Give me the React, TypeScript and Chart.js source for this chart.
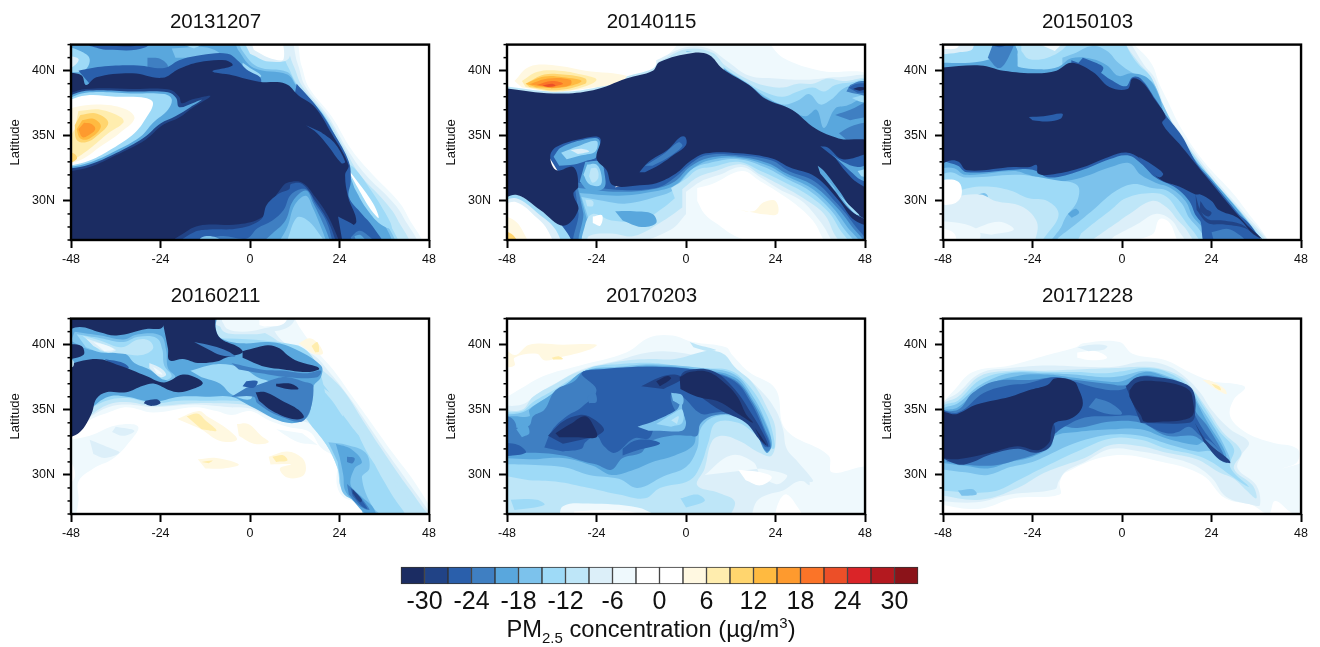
import React, { useEffect, useRef } from "react";
import { Chart, registerables } from "chart.js";

Chart.register(...registerables);

type Layer = [number, number[]];

const panelTitles = ["20131207", "20140115", "20150103", "20160211", "20170203", "20171228"];
const hourTicks = [-48, -24, 0, 24, 48];
const latTicks = [30, 35, 40];
const latMinor = [27, 28, 29, 31, 32, 33, 34, 36, 37, 38, 39, 41, 42];
const barValues = [-31.5, -28.5, -25.5, -22.5, -19.5, -16.5, -13.5, -10.5, -7.5, -4.5, -1.5, 1.5, 4.5, 7.5, 10.5, 13.5, 16.5, 19.5, 22.5, 25.5, 28.5, 31.5];
const barTicks = [-30, -24, -18, -12, -6, 0, 6, 12, 18, 24, 30];
const barColors = ["#1b2c62", "#214386", "#2a5fab", "#3f7fc2", "#59a7dd", "#7cc2ec", "#9edaf7", "#bee6f8", "#dceff9", "#eff9fd", "#ffffff", "#ffffff", "#fff8e1", "#ffedae", "#ffd56e", "#ffba40", "#fe9a2e", "#fb7428", "#ec4f28", "#da2428", "#b4191f", "#8b1319"];

// Each layer: [PM2.5 anomaly of the band, contour outline as hour,lat,hour,lat...]; painted back to front.
const panel2013: Layer[] = [
  [-5, [-50,43, 10.4,43, 13.9,40.3, 15.7,38.75, 22,36.45, 27.3,33.9, 32.6,32.1, 39.7,30, 42.3,28.8, 45.4,26.5, -50,26.5]],
  [-8, [-50,43, 9,43, 12.8,40.5, 14.8,38.8, 21,36.5, 26,34, 31,32, 38,30, 41,28.8, 44,26.5, -50,26.5]],
  [-11, [-50,43, 7,43, 11.5,40.5, 14,38.8, 20.5,36.5, 25,34.2, 29.5,32, 36,30, 39.5,28.6, 42,26.5, -50,26.5]],
  [-14, [-50,43, 5,43, 10,40.4, 13,38.8, 20,36.5, 24.5,34, 28,32, 34,30, 37,28.5, 39,26.5, -50,26.5]],
  [-8, [-3,43, 9,43, 10.5,41, 5,40.7, 0,41.3]],
  [-2, [-0.5,43, 7,43, 9,40.9, 5,41, 1,41.6]],
  [-17, [-50,43, -5,43, -2,41.5, 2,40.3, 10,39.9, 12.5,38.9, 19.5,36.7, 24,34.3, 27.5,32.3, 32,30.3, 35.5,28.8, 38,26.5, -50,26.5]],
  [-20, [-50,43, -6,43, -3,41.5, 1,40.2, 10,39.7, 12.5,38.8, 19,36.8, 23.5,34.5, 27,32.5, 31,30.5, 34.5,29, 37,26.5, -50,26.5]],
  [-14, [25.5,33, 28,32.5, 32,31, 36,29.2, 38,27.9, 35,28.2, 31,29.5, 28,31]],
  [-2, [26,32.5, 28,31.8, 33,29.8, 34.5,28.7, 32,29.5, 28.5,31.2]],
  [-26, [12.5,39, 18,37.2, 22.5,35.2, 26.5,33, 27,31.5, 26.5,30.3, 30,29, 33,28, 35.5,26.5, 20,26.5, 10,35]],
  [-14, [-50,41.9, -45.5,41.5, -43,40.9, -44.5,40, -50,39.9]],
  [-8, [-50,41.2, -46,40.9, -47.5,40.3, -50,40.2]],
  [-26, [-45,43, -26,43, -28,41.8, -38,41.6, -43,41.9]],
  [-29, [-40,42.3, -30,42.3, -31,41.9, -37,41.9]],
  [-23, [-27.5,41, -24,40.9, -22,40.3, -25,40, -27.5,40.3]],
  [-17, [-21,41.7, -12,41.8, -8,41.3, -10,41.1, -16,41, -20,41]],
  [-14, [-18,42, -13,42, -15,41.7]],
  [-14, [-2,40.6, 0,40.2, 3,39.6, 1,39.4, -2,39.7]],
  [-26, [-46,40, -40,40.3, -30,40.4, -23,40.2, -19,40.8, -13,41.2, -6,41.3, -3,40.7, -1,40.1, 3,39.3, 0,38, -40,38]],
  [-32, [-50,39.85, -45.2,39.65, -44,38.9, -41.2,39.5, -31.5,39.8, -23.5,39.45, -19,40.15, -13.7,40.65, -6.6,40.8, -4.7,40.4, -10.1,39.95, -4.8,39.65, 2.4,39.15, 9.5,39, 13,38.1, 17.4,37.2, 21.9,35.15, 26.4,32.75, 25.5,32, 26.3,30.3, 28.5,28.4, 26,27.8, 26,26.5, -50,26.5]],
  [-26, [15,35.8, 18,35.2, 21,34.2, 24.5,32.9, 25.5,33, 22.5,34.5, 19,35.3]],
  [-29, [-50,38.1, -44,38.6, -31.5,38.6, -21.7,38.55, -19,38, -18.3,37.5, -15.4,37.8, -10.6,38.05, -15.4,37.15, -19,36.4, -23.5,35.8, -28,34.7, -36,33.5, -43,32.6, -50,32.2]],
  [-20, [-50,37.9, -44,38.45, -31.5,38.4, -22,38.35, -19.8,37.9, -19,37.2, -15.4,37.5, -13,37.75, -16,37.2, -20,36.5, -24,35.95, -28.5,34.85, -36,33.65, -43,32.8, -50,32.4]],
  [-14, [-50,37.7, -44,38.3, -32,38.25, -23,38.2, -21,37.8, -22,37, -26,36, -29.5,34.9, -36,33.85, -43,32.95, -50,32.5]],
  [-2, [-50,37.6, -44,38.1, -36,38, -28,37.9, -26,37.5, -28,36.3, -31,35.2, -37,34, -43,33.1, -50,32.6]],
  [4, [-50,36.8, -47,37.2, -40,37.4, -33,37, -31,36.3, -35,35.2, -40,34.2, -45,33.2, -50,32.8]],
  [7, [-46,36.9, -40,37, -34.5,36.4, -34,36, -38,35.2, -43,34, -46,33.4, -50,32.8, -50,34, -47,35.5]],
  [10, [-45.5,36.6, -41,36.7, -38,36, -41,35, -44,34.5, -46.5,34.7, -47,35.8]],
  [13, [-45,36.2, -42,36.3, -40,35.7, -43,34.8, -45.5,34.8, -46.5,35.5]],
  [16, [-44.5,36, -42.5,35.9, -41.5,35.5, -43.5,35, -45,34.9, -46,35.5]],
  [10, [-50,33.8, -47,33.6, -46.5,33.2, -50,32.7]],
  [-29, [-23,26.5, -19,27.3, -13.7,28.1, -3,28.2, 3,28.7, 5,29.6, 8.4,31, 10,31.4, 14,31.4, 17.5,30.3, 21,28.8, 24.5,26.5]],
  [-26, [-21,26.5, -15,27.6, -11,27.8, -3,27.9, 3,28.6, 4.5,29.7, 8,30.6, 10.5,30.9, 11,31.3, 14,31.3, 17.5,30, 21,28.4, 23.5,26.5]],
  [-23, [-18,26.5, -8,27.3, -1,27.1, 2,27.9, 6,28.5, 9,29.3, 11,30.5, 15,30.9, 17.5,29.8, 20.5,28.4, 22.5,26.5]],
  [-20, [2,26.5, 6,27.5, 9.5,28.5, 11.5,30, 15,30.8, 17,29.8, 20,28, 22,26.5]],
  [-17, [7,26.5, 10,28, 12,29.7, 15,30.4, 16.8,29.5, 19,28, 21,26.5]],
  [-14, [10,27, 12.5,28.7, 15,28.6, 18,27.7, 20,26.5, 12,26.5]],
  [-17, [-14,26.5, -13,27.2, -9,27.2, -6,26.5]],
  [-26, [23.6,28.8, 27,28.3, 29,27.9, 33,27.3, 35,26.5, 25,26.5]],
  [-23, [27,27.2, 29,27.7, 31,27.5, 34,26.5, 28,26.5]],
  [-20, [28,27.3, 29.5,27.4, 31,27, 33,26.5, 29,26.5]],
];

const panel2014: Layer[] = [
  [-5, [-8,40.3, -3.5,41.6, 0,42.5, 20,42.5, 26,41, 36,40, 50,39.4, 50,33, -8,33]],
  [-8, [-8,40.8, 0,41.8, 6,41.7, 10.7,40.8, 17,39.6, 24,39.4, 32,39.3, 41,39.5, 50,39.3, 50,33, -8,33]],
  [-11, [-7,40.7, 0,41.65, 7,41.4, 10.5,40.4, 17.5,39.2, 22,38.8, 26,38.7, 30,39, 34,39, 38,39.4, 42,39.2, 50,39.2, 50,33, -7,33]],
  [-14, [0,41.5, 7,41.3, 10,40.3, 17,39, 21.5,38.3, 26,38, 30,38.4, 34,38.7, 37,38.4, 40,38.9, 44,39.1, 50,39.2, 50,33, 0,33]],
  [-17, [0,41.5, 6.5,41.3, 10,40.2, 16.9,38.9, 21.5,38, 26,37.4, 30,37.7, 33,38.2, 36,37.4, 39,37.8, 42,38.6, 45,38.9, 50,39, 50,33]],
  [-20, [6,41.25, 10,40.2, 17,38.9, 21.4,37.9, 27,37.2, 32,36.5, 35,37, 37,35.6, 40,37.1, 43,37.3, 50,38, 50,33, 10,33]],
  [-14, [44.5,37.9, 47,37.6, 50,37.7, 50,38, 47,38.1]],
  [-23, [44,38.9, 47,39.2, 50,39, 50,38.1, 46,38.2, 43,38.4]],
  [-26, [43.5,38.7, 46,39, 50,38.9, 50,38.4, 46,38.3]],
  [-32, [44.8,38.6, 46.5,38.75, 48.5,38.65, 46.5,38.45]],
  [-23, [40,36.6, 44,37, 50,37.7, 50,36.7, 44,36.2]],
  [-23, [41,35.2, 44,35.7, 48,36, 50,35.9, 50,34.8, 43,34.7]],
  [-26, [-36,35, -22,35, -22,31, 0,33.6, 14,34, 28,33, 35,32, 41,30.5, 46,29, 49,27.5, 50,26.5, -33,26.5, -32,30]],
  [-26, [-37,33.5, -34.5,34.4, -27.5,35, -22.5,35, -23.5,33.5, -21,32.3, -19,31, -28,29, -33,27.9, -33,26.5, -25,26.5, -27,32, -34,32.1]],
  [-23, [-30,31.5, -20,30.9, -8,31, -3,31.8, 1,32.8, 5.5,33.5, 14,33.5, 23,33.1, 27.5,32.3, 34.5,31.5, 40.5,29.8, 45,28.2, 48.5,26.5, -29,26.5, -28.8,29]],
  [-20, [-29,31, -18,30.7, -9,30.9, -3,31.5, 1,32.6, 6,33.3, 14,33.4, 22,32.9, 27,32.1, 34,31.2, 39.5,29.8, 44,28.2, 47.5,26.5, -27.5,26.5, -27.5,29]],
  [-17, [-28.5,30.6, -18,30.4, -9,30.7, -3,31.2, 1,32.3, 6,33.1, 14,33.3, 22,32.7, 27,31.9, 33.5,31, 39,29.6, 43,28.1, 46.5,26.5, -26,26.5, -26.5,28.5]],
  [-14, [-28,30.3, -22,30, -16,29.8, -7,30.4, -3.5,30.8, -1,31.6, 2,32.5, 6,32.9, 14,33.2, 21,32.6, 27,31.7, 33,30.8, 38.5,29.4, 42,28, 45,26.5, -25,26.5, -26,28.5]],
  [-11, [-4,31, 0,31.7, 3,32.4, 7,32.6, 14,33, 20,32.3, 26,31.5, 32.5,30.5, 38,29.2, 41,27.9, 43.5,26.5, -27,26.5, -27,28.2, -25,29, -20,28.5, -12,28.5, -6,29.5, -3,30.2]],
  [-20, [-19,29.2, -14,29.2, -9,29, -8,28.3, -12,28, -17,28.5]],
  [-8, [-1,30.9, 3,31.8, 8,32.3, 15,32.8, 20,32, 26,31.1, 31.5,30.2, 37,29, 39.5,27.6, 41,26.5, -26,26.5, -26,27.3, -20,27.5, -14,27.3, -6,28.5, -1,29.5]],
  [-5, [0,30.7, 4,31.5, 9,32, 15,32.6, 20,31.8, 25,30.9, 31,30, 35.5,28.6, 38,27.5, 39,26.5, -20,26.5, -14,26.7, -4,27.8, 0,29]],
  [-2, [3,31, 7,31.3, 15,32.3, 20,31.5, 24,30.8, 30,29.6, 34,28.5, 36,27.5, 37,26.5, 24,26.5, 14,27.2, 8,28.3, 5,29, 3,30]],
  [4, [13,29.4, 18,29.2, 20.8,29.9, 24,30, 24.5,29, 20,29]],
  [-11, [-27,30.1, -25,30, -25,29.6, -26.5,29.6]],
  [-2, [-25,28.8, -22.5,28.9, -23,28.1, -25,28.3]],
  [-20, [-35.5,33.4, -33.5,34.1, -27.5,34.7, -23.3,34.7, -24,33.4, -26.5,33.1, -30,32.8, -34,32.7]],
  [-14, [-33.5,33.7, -29,34.2, -24,34.6, -24.3,33.8, -28,33.5, -32,33.2]],
  [-8, [-31,33.9, -28,34, -26,33.8, -29,33.6]],
  [-20, [-27,33, -23,33, -21.8,32, -22,31, -26,30.8, -28.5,31.5]],
  [-14, [-26.5,32.8, -24,32.8, -22.7,32, -23,31.2, -26,31.3, -27.5,32]],
  [-11, [-25.5,32.5, -24,32.5, -23.5,31.8, -25,31.4, -26,31.9]],
  [-14, [-50,30.2, -45.5,30.5, -39,29.4, -33,28, -31,26.5, -50,26.5]],
  [-8, [-50,29.9, -45.5,30.2, -39.5,29, -35,27.8, -34,26.5, -50,26.5]],
  [-2, [-50,29.6, -45.5,29.9, -40,28.7, -37,27.7, -36,26.5, -50,26.5]],
  [4, [-50,29, -46,28.5, -44,27.8, -42.5,26.5, -50,26.5]],
  [10, [-50,27.8, -46.5,27.4, -45,26.5, -50,26.5]],
  [13, [-50,27.3, -47,27, -46.5,26.5, -50,26.5]],
  [-11, [-50,38.85, -35.6,38.4, -25,38.65, -16,39.55, -9,40.15, -7,40.75, 1.8,41.5, 7,41.3, 10,40.3, 10,38, -50,38]],
  [4, [-46,39.2, -42,40.3, -35,40.4, -27,40, -16,39.6, -18,39.1, -25,38.7, -35,38.4, -44,38.7]],
  [7, [-44,39.2, -40,39.9, -34,40, -28,39.7, -24,39.3, -28,38.7, -35,38.4, -43,38.75]],
  [10, [-43,39, -38,39.7, -33,39.7, -27,39.4, -27,39, -35,38.5, -42,38.75]],
  [13, [-43,39, -38,39.55, -33,39.5, -28,39.2, -33,38.7, -40,38.7]],
  [16, [-42,38.95, -37,39.4, -31,39.3, -31,38.9, -36,38.65]],
  [19, [-40,38.9, -36,39.2, -33,39, -36,38.75]],
  [22, [-38.5,38.85, -36,39, -35,38.85, -37,38.75]],
  [-32, [-50,38.7, -35.6,38.25, -24.9,38.5, -16,39.4, -8.9,40, -7.1,40.67, 1.8,41.36, 6.2,41.2, 9.8,40.15, 16.9,38.9, 21.3,37.85, 28.4,37, 34.7,35.55, 40.9,34.8, 50,34.3, 50,28.3, 45.3,28.5, 40.9,30.05, 34.7,31.85, 27.6,32.6, 23.1,33.25, 14.2,33.65, 5.3,33.65, 0.9,33, -2.7,32.1, -8,31.35, -12.4,31.2, -19.6,31.2, -21.3,32.35, -24,33.25, -23,34.8, -27.6,34.8, -34.7,34.15, -36.4,33.4, -34.7,32.35, -30.2,32.6, -28.9,31.1, -30.2,30.55, -28.9,29.3, -32.9,28.1, -39.1,29.3, -45.3,30.45, -50,30.05]],
  [-26, [-12.5,32.2, -10,33, -5,33.9, -1.5,34.9, -0.2,34.9, 0,34.3, -3,33.6, -7,32.8, -11,32.2]],
  [-23, [-11,32.7, -6,33.6, -2,34.5, -1,34.2, -5,33.3, -9,32.7]],
  [-26, [36,34.2, 38,34.1, 42,33.2, 50,33.5, 50,31, 46,31.4, 43,32.2, 40,33.3]],
  [-20, [39,33.6, 42,33, 46,32.6, 50,32.8, 50,31.5, 47,31.6, 44,32.3]],
  [-14, [46,32.3, 50,32.5, 50,31.8, 47,31.9]],
  [-20, [35.3,32.7, 37,32.3, 41,30.8, 45,29.2, 48,28.6, 44,29.3, 39.5,30.9, 36,32.1]],
  [-14, [37,32, 41,30.5, 45,29.1, 46.5,28.9, 43,29.9, 39.5,31]],
];

const panel2015: Layer[] = [
  [-5, [-50,43, -1,43, 4,41.8, 8,40.5, 10,39, 12,37.8, 16,35.5, 22,33, 30,30.5, 34,29, 38,27.5, 39.5,26.5, 20,26.5, -50,33]],
  [-8, [-50,43, 0,43, 2.5,42, 6,40.4, 8.8,39.4, 11.5,37.1, 15,35.5, 24,32, 33,29, 39,27, 39,26.5, 20,26.5, -50,32]],
  [-11, [-50,43, -0.5,43, 1,42, 4.5,40.6, 8,39.4, 11.2,37, 15,35.3, 23.7,31.9, 33,28.8, 38.5,26.5, 20,26.5, -50,33]],
  [-14, [-50,43, 0,43, 1,42, 4,40.6, 8,39.4, 11,37, 14.5,35.4, 23.5,31.9, 33,28.7, 37.8,26.5, 30,26.5, 20,30, 5,33, -50,33]],
  [-8, [-50,43, -41,43, -40,41.7, -44,41.4, -50,41.2]],
  [-2, [-50,43, -45,43, -44,41.8, -50,41.7]],
  [-11, [-27,43, -14,43, -15,41.9, -20,41, -25,40.9, -27,41.5]],
  [-5, [-22,42, -16,42.2, -18,41.5]],
  [-17, [-16,41, -13,41.3, -8,41.9, -4,41.5, -1,40.6, 3,39.8, 6,39.5, 8.5,39, 11,37.4, 15,35.2, 23,31.8, 33,28.7, 37.5,26.5, 33,26.5, 20,30, 5,33, -16,33]],
  [-20, [-30,42.2, -28,41.5, -29,40.5, -22,40.1, -17,40.3, -13.6,40.95, -8,40.9, -4,40.4, -1,39.6, 2.5,39.8, 7,39.4, 10,38, 11.5,36.5, 14.8,35.2, 20,33, 24,31.7, 33,28.6, 37.3,26.5, 30,26.5, 20,30, 5,33, -30,33]],
  [-20, [-50,40.6, -38,40.7, -33,41.4, -35,42.5, -30,42.5, -28,41, -30,39, -50,39]],
  [-23, [-34,42.5, -29,42.5, -30.5,41, -33,40.2, -36,41]],
  [-26, [-36,43, -30,43, -31,42, -33,41.8, -35,42]],
  [-26, [-13.6,40.8, -10,40.4, -6,39.9, -3,39.3, 1,38.8, 2.8,39.5, 5,39.4, 9,37.8, 11.7,36.6, 16,35, 20,32.9, 23.5,31.7, 33,28.4, 37,27, 30,27, 5,33, -13,33]],
  [-26, [-10.5,41, -7,40.6, -5,40.2, -7,39.6, -12,40.5]],
  [-26, [-50,33.3, -46,33.4, -44,33.3, -41.6,32.6, -29,32.8, -22,33, -19,32.2, -11.4,32.7, -3.4,33.6, 1.5,33.9, 5.5,33.3, 10,31.9, 15.3,31, 19.7,30, 22,28, 25,26.5, -50,26.5]],
  [-20, [-50,32.3, -48,33, -46,32.9, -44,32.7, -41.6,32.2, -29,32.4, -24,32.4, -19.4,31.8, -11.4,32.3, -3.4,33.2, 1.5,33.5, 5,32.9, 9,31.8, 14.5,31, 18,30, 20,28.8, 24,27.5, 25,26.5, -50,26.5]],
  [-17, [-50,32, -48,32.5, -45,32.5, -42,32, -29,32.3, -25,32, -19,31.5, -12,31.7, -3,32.6, 2,32.9, 5,32, 9,31.4, 13,31, 17,30, 19,28.8, 22,27.8, 24,26.5, -50,26.5]],
  [-14, [-50,31.8, -46,32.2, -42,31.8, -29,32, -24,31.9, -18,31.6, -12,31.2, -12,30, -15,28.8, -17,27.7, -22,26.5, -50,26.5]],
  [-14, [-17,27.2, -12,28.3, -7,29.5, -2,30.7, 3,31.3, 8,31, 12,30.8, 16,29.8, 18,28.7, 21,27.7, 23,26.5, -19,26.5]],
  [-20, [-14.5,29, -12.5,29.4, -11.5,29.1, -13.5,28.7]],
  [-11, [-50,29.6, -46,30.5, -41,31, -36,31.1, -30,30.8, -25,30.2, -20,30, -17,29, -20,27.5, -24,26.5, -50,26.5]],
  [-17, [-40,30.3, -37,30.6, -36,30.3, -39,30]],
  [-11, [-8,28.2, -3,29.3, 1,30.2, 8,30.6, 12,30.3, 15,29.2, 17.5,28.2, 20,27.3, 21,26.5, -12,26.5, -11,27.5]],
  [-8, [-50,29.8, -45,30.3, -38,30.5, -34,30, -27,29.6, -23,28.5, -23,27.3, -25,26.5, -50,26.5]],
  [-8, [-8,27, -2,28.2, 2,29, 8,30, 12,29.5, 15,28.5, 17.5,27.7, 19,26.5, -15,26.5]],
  [-5, [-2,27.3, 4,28.2, 9,29, 13,28.6, 15,27.8, 17,26.5, -5,26.5]],
  [-2, [-2,26.8, 8,27.4, 10,28.6, 12.5,28.4, 14.5,27.2, 15,26.5, -13,26.5]],
  [-2, [-50,31.6, -44,31.5, -43,30.5, -45,29.8, -50,29.7]],
  [-5, [-50,28.5, -42,28.2, -38,27.5, -40,26.5, -50,26.5]],
  [-2, [-50,28, -45,27.5, -45,26.5, -50,26.5]],
  [-5, [-41,27.7, -33,28.4, -29,27.8, -35,27.4]],
  [-26, [19,30.5, 21,28.5, 23,26.5, 37,26.5, 36,27.5, 32,28.8, 26,29.7, 22,30.8]],
  [-23, [24,27.6, 29,27.8, 34,26.5, 25,26.5]],
  [-29, [19.7,30.5, 21,29.3, 23,28.6, 27,28.5, 32,28.2, 35.5,27.4, 33,27.9, 27,28.2, 23,28.3, 20,29.3]],
  [-32, [-50,40.2, -38,40.4, -31.8,40, -22.9,39.8, -17.6,40, -13.6,40.6, -7.8,39.9, -3.4,38.75, 1.5,38.6, 2.8,39.4, 5.5,39.1, 9,37.7, 11.7,36.45, 10.8,35.95, 15.3,34.4, 23.3,31.6, 33,28.3, 37.5,27.1, 35,27.5, 31,28.7, 26,29.3, 24,30, 21,30.5, 19.7,30.5, 15.3,31.1, 10,31.7, 5.5,33.1, 1.5,33.7, -3.4,33.4, -11.4,32.5, -19.4,32, -22.5,32.1, -22.9,32.75, -24.7,32.6, -29.2,32.6, -41.6,32.35, -43.8,33, -46,33.1, -50,32.6]],
  [-26, [-25,36.45, -21,36.5, -16,36.7, -16.5,36.3, -20,36.1, -24,36.2]],
  [-26, [4.5,33.4, 8,32.8, 11,32.1, 10,31.8, 7,32.4]],
  [-29, [21,30, 22.5,29.4, 24,29.1, 23,28.8, 20.8,29.2]],
];

const panel2016: Layer[] = [
  [-5, [-50,32.5, -43,34.2, -38,34.8, -33,35.2, -26,34.8, -15,35.2, -9,34.9, -5,34.6, 0,34.9, 5,34.2, 10,33.7, 16,33.3, 19,32.1, 23,31.2, 23.3,29.2, 25,28.3, 29,27.8, 33.5,26.5, 50,26.5, 49,27.2, 44,29.5, 38.5,31.6, 33,33.8, 27.5,36, 22.5,38, 18,39.5, 12,42, 12,43, -50,43]],
  [-8, [-50,32.7, -43,34.4, -38,35.2, -33,35.4, -26,35.2, -15,35.4, -9,35.3, -5,35.2, 0,35.1, 5,34.5, 11,34, 15.5,34, 20,32.5, 23,31.3, 24,29.8, 25,28.6, 29.5,28, 34,26.5, 49,26.5, 47,27.6, 42,29.6, 37,31.6, 32,33.7, 26.5,36, 21.5,37.8, 17,39.2, 9,40.2, 5,42, 5,43, -50,43]],
  [-11, [-50,32.8, -43,34.5, -38,35.4, -33,35.6, -26,35.3, -15,35.5, -9,35.5, 0,35.3, 5,34.6, 11,34.1, 15.4,34.2, 20.5,32.3, 23.5,30.5, 24.6,29, 30,28.2, 35,26.5, 48,26.5, 45.5,27.8, 40,30, 35,32.1, 30,34.3, 25,36.5, 20,37.9, 15,39, 8,40.2, 3,41, -9,41.5, -9,43, -50,43]],
  [-14, [15,37.9, 20,36.8, 24,35, 27,33.8, 31,32.3, 34,30.5, 38,28.5, 42,26.5, 35,26.5, 30,28.2, 24.6,29, 23.5,30.5, 20.5,32.3, 15.4,34.2, 12,36]],
  [-11, [28,34, 30,32.5, 33,31, 35,30.5, 31,32.8, 29,34]],
  [-11, [18,37, 22,35.7, 25,34.5, 23,36]],
  [-11, [38,29.8, 40,29.2, 43,27.7, 41,28]],
  [-17, [21,32.5, 26,32.3, 31,31.7, 32,30.5, 30,29.8, 33,27.5, 37,26.5, 31.5,26.5, 29,27.8, 25,28.6, 24,30, 23.5,31]],
  [-20, [23,32.4, 27,32, 30,31, 28,30.5, 27,29.2, 30,28.3, 33,27.5, 34,26.5, 31,27, 28,27.9, 25.5,28.8, 25,30, 24,31.4]],
  [-23, [26,31.4, 28,31.3, 27.5,30.9, 26,31]],
  [-23, [26,29.3, 28,28.8, 31,27.8, 32,27.3, 29,27.7, 26.5,28.5]],
  [-26, [27,29, 29,28.4, 31.5,27.4, 30,27.6, 27.5,28.4]],
  [-29, [27.5,28.9, 30,28.1, 29.5,27.9, 27.5,28.6]],
  [-14, [-50,33, -44,34.8, -38.5,35.7, -33,35.9, -26,35.5, -19,35.7, -12,35.7, -5,35.7, 0,35.5, 8,34.4, 15.5,34.4, 20,36.5, 12,40, -50,40]],
  [-20, [-50,43, -9,43, -9.2,41.3, -7.8,40.5, -2,40.1, 5,40.2, 11,39.8, 19,38.4, 19,37.5, 17,36.8, 15.5,34.5, 10,34, 0,35.3, -5,36, -12,36, -19,36, -26,35.6, -33,36, -38,36, -43,35, -50,33]],
  [-8, [-8.5,43, 12,43, 11,41.5, 4,40.9, -2,40.8, -7,41, -8.5,41.8]],
  [-5, [-7.8,43, 10,43, 9,41.8, 3,41.2, -2,41, -6,41.2, -7.5,41.8]],
  [-2, [2.5,42.5, 10,42.5, 9,41.6, 4,41.4, 2.5,41.5]],
  [-17, [-47,41, -40,40.7, -34,40.4, -30,40.8, -24,40.7, -22.5,39.6, -22,38.2, -20,37.5, -22,37.2, -27,38.3, -33,39.5, -40,39.5, -44,39.7, -48,40.3]],
  [-14, [-46.5,40.8, -40,40.5, -34,40.2, -30,40.6, -25,40.5, -23.5,39.6, -23,38.4, -21,37.6, -23,37.3, -27,38.1, -31,38.6, -33.5,39.3, -40,39.4, -44,39.8]],
  [-11, [-45,40.7, -40,40.3, -34.5,39.8, -30,40.4, -27,40.3, -26,39.7, -29,39.2, -34,39.3, -40,39.5]],
  [-8, [-44,40.5, -41,40.2, -36,39.6, -38,39.4, -42,39.9]],
  [-5, [-42,40.2, -38,39.9, -36.5,39.6, -39,39.5]],
  [-8, [-27,38.6, -24,38.2, -22.5,37.7, -24,37.5, -27,38.2]],
  [-5, [-26,38.3, -24,37.9, -23.5,37.7, -25,37.8]],
  [-26, [-39,38.9, -34,38.6, -32.5,38.2, -35,38.1]],
  [-14, [-16,38, -9,38.5, -2,38.2, 2,37.5, 6,37, 6,36.2, 1.5,36.6, 0,35.8, -5,36.2, -8,37, -13,37.5]],
  [-23, [-5,36, 1,36, 2,35.5, 8,34.5, 14.5,34.2, 17,36.8, 14,37.2, 10,37.5, 7,37.4, 2,36.9, -1,36.7]],
  [-23, [-5,38.6, 3,38.1, 9,38, 15,37.8, 19,38, 18,37.5, 10,37.5, 3,37.8, -3,38.1]],
  [-26, [-1,37.2, 2,37.2, 1,36.7, -2,36.8]],
  [-32, [-23,43, -10,43, -9.2,41.2, -7.8,40.45, -3,39.8, -2,39.4, -6.5,39, -9,38.7, -14,38.6, -18,38.9, -21.6,38.8, -22,39.7, -23.4,41.7]],
  [-23, [-15,40.2, -10,39.9, -6,39.5, -4,39.1, -8,39.2, -11,39.6]],
  [-32, [-50,43, -23,43, -23.4,41.35, -27.8,41.2, -35.8,40.7, -40.3,40.95, -45.6,41.35, -50,41]],
  [-32, [-50,40.05, -45.2,39.9, -44.7,39.2, -50,38.8]],
  [-32, [-50,38.4, -41.2,38.9, -35,38.4, -27.8,37.6, -23,37.1, -18,37.7, -14,37.4, -12.7,37, -15.4,36.6, -19,36.35, -21.6,36.5, -25.6,37, -28.7,36.85, -33.2,36.35, -38.5,36.35, -41.2,35.85, -42.5,34.7, -45.6,33.3, -50,32.7]],
  [-11, [-50,38.9, -47.5,38.8, -47.5,38.3, -50,38.2]],
  [-32, [-2,39.5, 2,39.8, 5,39.95, 8,39.7, 10,39.2, 13,38.7, 18,38.3, 18.5,38.1, 15,37.9, 9,38.1, 4,38.3, -2,39]],
  [-32, [1.5,36.35, 4.2,36.35, 8.6,35.7, 13,35, 14.4,34.4, 11.3,34.3, 6,34.9, 2.4,35.7]],
  [-32, [7,37, 11,37, 13,36.6, 10,36.6, 7,36.8]],
  [-29, [-28,35.7, -25,35.8, -24,35.5, -26.5,35.3, -28.5,35.5]],
  [4, [13,40.1, 16,40.5, 18.5,40, 19.5,39.3, 17,39.3, 14.5,39.8]],
  [7, [16.5,39.9, 18,40.2, 18.5,39.5, 17.5,39.4]],
  [4, [-19.5,34.3, -13.7,34.9, -11.5,34.5, -6,33.5, -3.5,32.7, -8,32.6, -13,33.5]],
  [7, [-17,34.5, -14,34.7, -12,34.2, -9,33.4, -13,33.5]],
  [4, [-3.5,33.9, -0.5,33.9, 3,33, 5,32.5, 1,32.4, -3,33]],
  [4, [-14,31.2, -9,31.3, -3,30.8, -7,30.5, -12,30.5]],
  [7, [-13,31, -10,31.1, -11,30.9]],
  [4, [5,31.4, 10,31.8, 14,31.3, 15,30.5, 14,29.9, 10,29.8, 8,30.5, 11,30.8, 5.5,30.8]],
  [7, [6,31.4, 9,31.5, 10,31.1, 7,31]],
  [-5, [-48,32.7, -43,33, -36,33.8, -30,33.7, -33,32.3, -37,31.2, -42,30.5, -46,29.5, -46,28, -47.5,26.5, -50,26.5, -50,32]],
  [-2, [-50,31, -48,31, -47,29.8, -50,29]],
  [-8, [-43,32.7, -37,32, -35,31.7, -39,31.3, -42,31.6]],
  [-8, [-36,33.7, -31,33.4, -34,33, -37,33.3]],
  [-5, [7,33.5, 13,32.5, 18,32.3, 19,32.1, 14,33.2]],
];

const panel2017: Layer[] = [
  [-5, [-50,35.7, -48,36, -44.5,36.6, -38.2,37.6, -28.4,38.4, -16,39.4, -9.8,40.55, -3.6,40.7, 1.8,40.2, 10.7,39.8, 12.4,39.2, 16.9,37.9, 24,36.6, 26.7,33.5, 38.2,31.5, 39.1,30.2, 47,30.6, 50,30.6, 50,26.5, -50,26.5]],
  [-8, [-50,35.3, -44,35.4, -40,36.2, -34,37.2, -28,38.1, -18,38.8, -12,39.3, -6,39.5, 2,39.2, 10,38.5, 14,38, 20,36.5, 24,35, 26,33.5, 27,32, 30,31, 33,30, 34,29.5, 30,29.5, 26,28.8, 22,28.5, 19,28, 16,26.5, -50,26.5]],
  [-11, [-50,35, -44,35, -41,36, -35,37, -29,37.9, -18,38.7, -10,38.9, -3,38.9, 5,39.5, 8,39.5, 10.5,39.2, 13,38.3, 18,37, 22,35, 24,33.5, 23,31.5, 19,31.8, 15,32.5, 10,33, 7,32.6, 5,30.5, 3,29.2, 9,28.6, 13,28, 12,27, 10,26.5, -12,27, -25,27.3, -32,27.7, -34,26.9, -38,26.5, -50,26.5]],
  [-14, [-50,34.8, -44,34.9, -41,35.6, -35,36.6, -30,37.5, -25,38.3, -18,38.5, -9,38.6, -3,38.4, 5,38.2, 12,38, 17,36.8, 21,35, 23,33.5, 23.5,32, 19,33, 14,34, 8,34, 6,32.5, 4,30.8, 1,29.6, -7,29, -11,28.2, -18,28.5, -26,29, -35,29.5, -42,29.6, -50,30]],
  [-14, [-47,28.1, -40,28.1, -38,27.7, -46,27.3]],
  [-14, [-1.5,28.2, 3,28.5, 5,28, 0,27.5]],
  [-17, [-50,34.6, -44,34.8, -41,35.3, -36,36.2, -31,37.2, -26,38.1, -18,38.3, -9,38.5, 4,38.2, 13,37.7, 18,36, 21.5,34, 23,32.5, 22,32, 18,33.5, 14,34.4, 8,34.5, 4,33.6, 3,32, 0,30.6, -6,29.9, -13,29, -18,29.7, -26,30, -33,30.6, -45,30.8, -50,30.8]],
  [-20, [-50,34.5, -46,34.5, -42,34.5, -42,35, -37,36, -32,37, -27,38, -18,38.2, -9,38.4, 3,38.1, 13,37.5, 18,35.7, 21.5,33.8, 23,32.3, 21.5,31.7, 18,33.7, 14,34.7, 7,34.7, 3,33.5, 2,32.3, -3,31.5, -9,31, -14,30.4, -20,30, -25,30.7, -33,31.3, -42,31.2, -50,31.3]],
  [-23, [-48,34, -45,33.6, -42,33.8, -41,34.5, -38,35, -35,36.5, -30,37.2, -27,38, -18,38.1, -9,38.3, 4,38, 13,37.3, 18,35.5, 21,33.6, 22.8,32.2, 21.5,31.8, 18.5,33.4, 14,34.5, 8,34.6, 4,34, 3,33, 1,33, -4,33, -10,32.5, -12,31.7, -17,31.3, -20,30.4, -24,30.8, -27,31, -33,31.5, -43,31.7, -50,31.5, -50,33]],
  [-23, [-50,34.5, -47,34.4, -45.5,33.7, -47,33.2, -50,33.2]],
  [-20, [-45.5,33.5, -43,33.9, -42,33.2, -44,32.9]],
  [-26, [-38,32.1, -36,33.4, -32,34.5, -28,35.2, -24,36.5, -28,37.8, -23,38.1, -10,38.3, 4,38, 13,37.2, 17.5,35.5, 21,33.4, 22.5,32.2, 21,32.2, 18,33.6, 14,34.8, 8,34.8, 4,34.7, -1,36, -4,36.2, -3,35, 0,34.2, -4,33.9, -8,33.8, -10,32.8, -14,32.8, -19,31.7, -22,32.2, -24,33, -27,32.5, -28,32, -33,31.8]],
  [-26, [-50,32.5, -45,32.3, -43,31.7, -50,31.4]],
  [-26, [-17,32, -14,32.6, -10,32.7, -7,32.4, -13,31.9, -17,31.5]],
  [-23, [-26.5,36, -24.5,36.3, -24,35.6, -26,35.5]],
  [-29, [-37,33, -33,34.1, -28.5,34.6, -25.5,34.4, -22,33.5, -24,33, -28,32.7, -33,32.4]],
  [-29, [-12,36.8, -7,37.5, -3,37.7, -1,37.4, -6,36.6]],
  [-29, [-2,37.4, 0,38, 7,38, 13,36.6, 18,34.5, 21,33, 22,32.2, 20,32.6, 16,34, 9,35, 3,36.2]],
  [-32, [-35,33.2, -31,33.9, -27,34.5, -24.5,33.6, -24,32.9, -29,32.9, -34,32.9]],
  [-32, [-8,37.2, -5,37.6, -4,37.4, -7,36.8]],
  [-32, [-1.7,37.5, 1,37.9, 6,37.9, 11,36.9, 14,35.9, 16,34.7, 18,34, 15,34.5, 9,35.6, 3,36, -1.5,36.6]],
  [-32, [18.5,33.6, 20,33, 21.5,32.3, 20,32.7]],
  [-17, [-13,33.7, -8,34.2, -3,34.9, -2,35.2, -1,36, -1,35, 0,34, -1,33.4, -7,33.4, -10,33.4]],
  [-17, [-4,36.3, -1,36.1, -1,35.4, -3.5,35.7]],
  [-14, [-8,33.9, -3,34.8, -1,35, -1,34, -4,33.7]],
  [-11, [-4,34.2, -2,34.5, -2.4,33.9]],
  [4, [-50,40.3, -46,39.2, -42,40, -33,40, -24,40, -26,39.6, -34,39, -38,38.8, -40,39.3, -46,39, -46,38.4, -50,38.2]],
  [7, [-36,39, -34,39.1, -33,38.9, -35.5,38.85]],
  [-5, [-34,26.5, -33,27.6, -26,27.8, -13,27.5, -8,26.9, -5,26.5]],
  [-2, [-30,27.2, -20,27.3, -12,27, -9,26.5, -30,26.5]],
  [-5, [5,30, 12,31.5, 18,31, 20,30, 24,29.3, 26,29.5, 27,30, 20,30.5]],
  [-2, [14,30.4, 20,30.2, 23,29.8, 20,29.2, 16,29.6]],
  [-2, [23.5,26.5, 25,28, 27,28.5, 30,27.5, 32,26.5]],
  [-8, [30,30, 33,29.5, 33,29.2, 31,29.7]],
  [-11, [1,40.2, 3,40, 8,39.6, 6,39.5, 2,39.8]],
];

const panel2018: Layer[] = [
  [-5, [-50,34, -48,35.5, -45,36.5, -40,37.9, -30,38.4, -20,39.2, -12.3,39.8, -10.5,40.1, -0.7,40.2, 2.8,39.3, 11.7,38.8, 18,37.9, 24,37.2, 30,37, 33,36.7, 30,35.8, 29,34.5, 33,33.3, 40,32.5, 47,32, 47,31, 43,30.5, 47,30.8, 50,31, 50,28, 48,27, 45.5,27.1, 41,28, 39.3,27, 34.8,27.7, 27.7,28.2, 21.5,30, 10.8,31, -2.5,31.5, -15,30.2, -16.7,29.4, -16.7,28.5, -29,28.2, -38,27.4, -48,27.7, -50,28]],
  [-2, [-12,39.4, -7,39.5, -4,39, -8,38.8, -12,39]],
  [-8, [-12,39.8, -8,40, -4,39.9, -5,39.6, -9,39.5]],
  [-8, [-50,33, -48,35.5, -44,36.3, -38,37.8, -30,38.2, -20,38.4, -10,38.3, -2,38.3, 6,38.7, 12,38.4, 17,37.5, 21,36.3, 24,35, 29,33.5, 34,32.5, 32,31.5, 31,30.5, 36,29.2, 37,27.7, 35,27.7, 28,28.3, 24,29.8, 19,30.8, 12,31.4, 5,31.8, -3,32, -10,31, -15,30.3, -17,29.5, -18,28.9, -30,28.5, -39,27.9, -50,28]],
  [-11, [-50,33.5, -48,35.4, -44,36, -38,37.6, -30,38, -22,38, -12,38.1, -2,38.2, 6,38.3, 11,38.1, 16,37.5, 19,36.6, 23,35, 27,33.3, 32,31.8, 30,30.5, 35,29.2, 36,28.2, 33,28.9, 30,29.7, 26,30.2, 20,31.2, 12,31.7, 5,32.2, -3,32.3, -10,31.3, -18,30.5, -22,30, -28,29, -38,28.1, -50,28.5]],
  [-14, [-50,34, -48,35.3, -44,35.7, -38,37.3, -30,37.9, -20,37.9, -12,37.9, -5,37.8, 1,38, 6,38.2, 12,37.9, 18,36.8, 22,35.2, 26,33.4, 30,32, 29,30.6, 34,29.1, 33,29.2, 29,30, 24,31, 20,31.5, 12,32, 5,32.7, -3,32.8, -12,31.8, -18,31, -23,30.3, -27,29.7, -35,28.7, -50,28.8]],
  [-17, [-44,28.8, -40,28.9, -39,28.5, -43,28.4]],
  [-17, [-50,34.5, -48,35.1, -44,35.5, -38,36.9, -30,37.8, -20,37.8, -13,37.7, -5,37.5, 0,37.6, 6,38, 11,37.7, 18,36.7, 21,35.3, 25,33.5, 28,31.9, 29,31, 27,31, 24,31.8, 20,31.8, 12,32.4, 5,33, -3,33.1, -12,32.5, -20,31.5, -24,31, -30,30.6, -36,30, -42,30.2, -50,30.5]],
  [-14, [-22.5,30.9, -21,30.9, -22,30.6]],
  [-20, [-50,35, -48,35, -44,35.2, -38,36.7, -28,37.6, -20,37.7, -14,37.5, -5,37.2, 0,37.2, 6,37.9, 11,37.6, 18,36.7, 20,35.6, 23,34, 28,31.5, 26,31.2, 22,32.5, 20,32.3, 12,32.8, 5,33.5, -3,33.5, -12,33.3, -18,33, -19,32.2, -24,31.4, -30,31, -36,30.5, -42,30.7, -50,31]],
  [-17, [-17,32.8, -15,32.9, -16,32.6]],
  [-23, [-50,35, -44,35, -40,36.3, -34,37.2, -24,37.3, -18,37.5, -13,37.3, -4,37, 1,36.9, 5,37.6, 10,37.5, 18,36.6, 19.5,35, 23,33.7, 27.5,31.4, 25,32, 22,32.5, 19,33, 12,33, 5,34, -3,34.1, -12,33.6, -18,33.7, -20,32.1, -30,31, -37,30.7, -47,31]],
  [-26, [-50,35.2, -44,34.8, -37,36.3, -30,36.9, -26,37, -18,37.5, -13,37.2, -7,36.7, -1,36.5, 2,36.8, 5,37.5, 10,37.4, 18,36.4, 19,35, 22,33.4, 27.3,31.5, 24,32.5, 21,33, 18,33.7, 15,33.3, 12,33.2, 7,33.8, 4,34.5, -3,34.5, -10,34.4, -16,33.6, -19,33, -30,32.2, -40,31.2, -48,31.2]],
  [-23, [-7,35.9, -3,35.5, 0,34.7, -4,34.7, -9,35.2]],
  [-29, [1,36.8, 4,37.5, 9,37.5, 15,37.2, 19,36.5, 19.5,34.5, 18,34, 5,34]],
  [-29, [-50,31.6, -44,30.8, -40,31, -36,31.5, -28,32, -23,31.7, -19,32.3, -19,34, -50,34]],
  [-32, [-50,35.1, -46,34.7, -44,34.7, -39,35.4, -30,36, -25,36.5, -20,36.9, -18,37.4, -13,37.2, -11.5,36.5, -10.5,35.5, -11.5,34.8, -14,34.3, -18,34, -19,33.3, -19.5,32.5, -22.5,31.9, -28,32.2, -34,31.8, -40,31.4, -46,31.2, -50,31.5]],
  [-32, [2,36.5, 4,37.1, 9,37.2, 14,37, 18,36.5, 19,35.7, 19,34.6, 16,34.2, 11,34.1, 6,34.1, 5,34.6, 3.5,35.2, 2,36]],
  [-29, [19.5,34, 23,32.5, 28.5,31.2, 29,30.9, 26,31.2, 22,32.5]],
  [4, [21.5,37.3, 24,37.2, 27.5,36.6, 28,36.2, 25,36.6]],
  [7, [24,37, 26,36.8, 26.5,36.5, 25,36.7]],
];

const panels = [panel2013, panel2014, panel2015, panel2016, panel2017, panel2018];

const FONT = '"Liberation Sans", Arial, sans-serif';
const bandColor = (v: number) => barColors[Math.floor((v + 33) / 3)];

const framePlugin = {
  id: "frame",
  afterDraw(chart: any) {
    const { ctx, chartArea: a, scales } = chart;
    ctx.save();
    ctx.strokeStyle = "#000";
    ctx.lineWidth = 1.5;
    for (const v of latMinor) {
      const y = scales.y.getPixelForValue(v);
      ctx.beginPath();
      ctx.moveTo(a.left - 3.5, y);
      ctx.lineTo(a.left, y);
      ctx.stroke();
    }
    ctx.lineWidth = 2.4;
    ctx.strokeRect(a.left, a.top, a.right - a.left, a.bottom - a.top);
    ctx.restore();
  },
};

function Panel({ index }: { index: number }) {
  const ref = useRef<HTMLCanvasElement>(null);
  useEffect(() => {
    const layers = panels[index];
    const datasets = layers.map(([v, flat], i) => {
      const data: { x: number; y: number }[] = [];
      for (let k = 0; k < flat.length; k += 2) data.push({ x: flat[k], y: flat[k + 1] });
      const c = bandColor(v);
      // Chart.js paints the lowest order last, so later layers get a lower order.
      return { data, order: layers.length - i, showLine: true, fill: "shape", backgroundColor: c, borderColor: c, borderWidth: 0, pointRadius: 0, tension: 0.38 };
    });
    const chart = new Chart(ref.current!, {
      type: "scatter",
      data: { datasets } as any,
      plugins: [framePlugin],
      options: {
        responsive: false,
        animation: false,
        layout: { autoPadding: false, padding: { right: 9 } },
        plugins: {
          legend: { display: false },
          tooltip: { enabled: false },
          title: {
            display: true,
            text: panelTitles[index],
            color: "#111",
            font: { family: FONT, size: 20.5, weight: "normal" },
            padding: { top: 10, bottom: 10 },
          },
        },
        scales: {
          x: {
            type: "linear",
            min: -48,
            max: 48,
            afterFit: (s: any) => { s.height = 30; },
            afterBuildTicks: (s: any) => { s.ticks = hourTicks.map((value) => ({ value })); },
            border: { display: false },
            grid: { drawOnChartArea: false, tickLength: 8, tickWidth: 2, tickColor: "#000" },
            ticks: { color: "#111", padding: 4, maxRotation: 0, autoSkip: false, font: { family: FONT, size: 12.5 } },
          },
          y: {
            type: "linear",
            min: 27,
            max: 42,
            afterFit: (s: any) => { s.width = 71; },
            afterBuildTicks: (s: any) => { s.ticks = latTicks.map((value) => ({ value })); },
            border: { display: false },
            grid: { drawOnChartArea: false, tickLength: 8, tickWidth: 2, tickColor: "#000" },
            ticks: { color: "#111", padding: 8, autoSkip: false, font: { family: FONT, size: 12.5 }, callback: (v: any) => `${v}N` },
            title: { display: true, text: "Latitude", color: "#111", font: { family: FONT, size: 13 }, padding: { top: 8, bottom: 0 } },
          },
        },
      },
    } as any);
    return () => chart.destroy();
  }, [index]);
  const left = [0, 436, 872][index % 3];
  const top = index < 3 ? 0 : 274;
  return <canvas ref={ref} width={440} height={270} style={{ position: "absolute", left, top, width: 440, height: 270 }} />;
}

function ColorBar() {
  const ref = useRef<HTMLCanvasElement>(null);
  useEffect(() => {
    const chart = new Chart(ref.current!, {
      type: "bar",
      data: {
        datasets: [{
          data: barValues.map((x) => ({ x, y: 1 })),
          backgroundColor: barColors,
          borderColor: "#333",
          borderWidth: 1,
          borderSkipped: false,
          clip: 4,
          categoryPercentage: 1,
          barPercentage: 1,
        }],
      } as any,
      options: {
        responsive: false,
        animation: false,
        layout: { autoPadding: false, padding: { left: 20, right: 20, top: 7 } },
        plugins: { legend: { display: false }, tooltip: { enabled: false } },
        scales: {
          x: {
            type: "linear",
            min: -33,
            max: 33,
            offset: false,
            afterFit: (s: any) => { s.height = 46; },
            afterBuildTicks: (s: any) => { s.ticks = barTicks.map((value) => ({ value })); },
            border: { display: false },
            grid: { display: false },
            ticks: { color: "#111", padding: -5, maxRotation: 0, autoSkip: false, font: { family: FONT, size: 25 } },
          },
          y: { type: "linear", min: 0, max: 1, display: false },
        },
      },
    } as any);
    return () => chart.destroy();
  }, []);
  return <canvas ref={ref} width={557} height={70} style={{ position: "absolute", left: 381, top: 560, width: 557, height: 70 }} />;
}

export default function App() {
  return (
    <div style={{ position: "fixed", left: 0, top: 0, width: 1320, height: 647, overflow: "hidden", background: "#fff", filter: "blur(0.4px)" }}>
      {panelTitles.map((_, i) => <Panel key={i} index={i} />)}
      <ColorBar />
      <div style={{ position: "absolute", left: 381, width: 540, top: 615, textAlign: "center", fontFamily: FONT, fontSize: 23.7, lineHeight: "28px", color: "#111", whiteSpace: "nowrap" }}>
        PM<sub style={{ fontSize: 15, lineHeight: 0 }}>2.5</sub> concentration (µg/m<sup style={{ fontSize: 15, lineHeight: 0 }}>3</sup>)
      </div>
    </div>
  );
}
